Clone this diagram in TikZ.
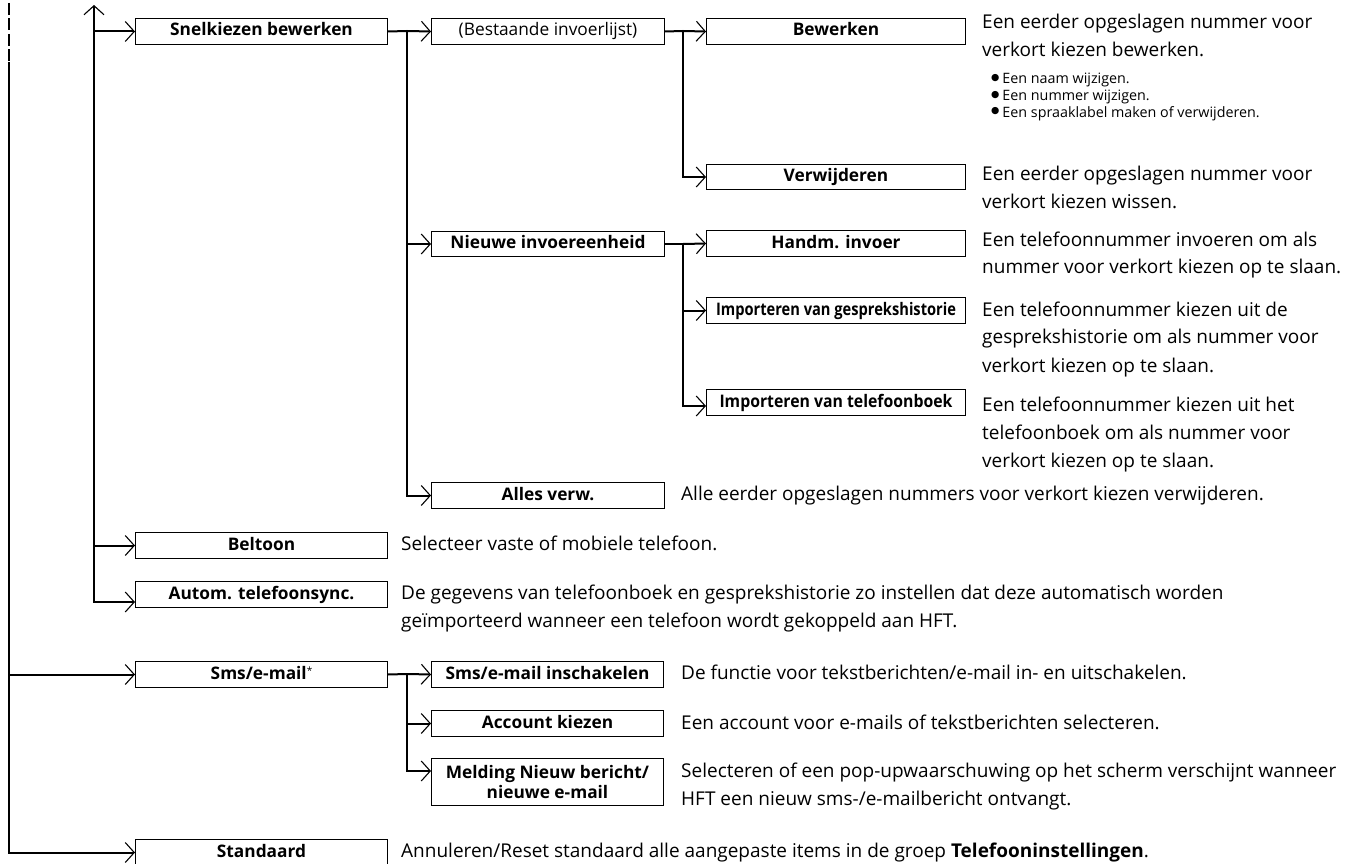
\documentclass[tikz,border=0pt]{standalone}
\usepackage{fontspec}
\usepackage{graphicx}
\setmainfont{Open Sans}
\newfontfamily\djv{DejaVu Sans}
\usetikzlibrary{arrows.meta}
\newcommand\bxf{\fontsize{17.3}{20}\selectfont\bfseries}
\newcommand\bxr{\fontsize{17.3}{20}\selectfont\mdseries}
\newcommand\dsf{\fontsize{19}{28}\selectfont}
\newcommand\smf{\fontsize{14.3}{16.7}\selectfont}
\newcommand\bul{\raisebox{3.5pt}{\djv\fontsize{9.5}{10}\selectfont ●}\hspace{3pt}}
\newcommand\ml[1]{\begin{tabular}[t]{@{}l@{}}#1\end{tabular}}
\begin{document}
\begin{tikzpicture}[x=1pt,y=-1pt,
  box/.style={draw, line width=1pt, anchor=north west, inner sep=0pt,
    minimum height=26pt, text height=12.5pt, text depth=3.5pt, font=\bxf, align=center},
  conn/.style={line width=2pt},
  barb/.tip={Straight Barb[length=9pt,width=20pt,line width=1.1pt]},
  arr/.style={conn,-barb},
  arrboth/.style={conn,barb-barb},
  desc/.style={anchor=base west, inner sep=0pt, font=\dsf},
  small/.style={anchor=base west, inner sep=0pt, font=\smf}]
\useasboundingbox (0,0) rectangle (1361,864);
% boxes
\node[box, minimum width=252pt] (snel) at (135,18) {Snelkiezen bewerken};
\node[box, minimum width=233pt, font=\bxr] (best) at (431,18) {(Bestaande invoerlijst)};
\node[box, minimum width=259pt] (bew) at (706,18) {Bewerken};
\node[box, minimum width=259pt, minimum height=25pt] (verw) at (706,164) {Verwijderen};
\node[box, minimum width=233pt, minimum height=25pt] (nieuw) at (431,231) {Nieuwe invoereenheid};
\node[box, minimum width=259pt] (handm) at (706,230) {Handm. invoer};
\node[box, minimum width=259pt] (impg) at (706,297) {\resizebox{240pt}{\height}{Importeren van gesprekshistorie}};
\node[box, minimum width=259pt] (impt) at (706,389) {\resizebox{233pt}{\height}{Importeren van telefoonboek}};
\node[box, minimum width=233pt] (alles) at (431,482) {Alles verw.};
\node[box, minimum width=252pt] (belt) at (135,532) {Beltoon};
\node[box, minimum width=252pt] (autom) at (135,581) {Autom. telefoonsync.};
\node[box, minimum width=252pt] (sms) at (135,661) {Sms/e-mail\raisebox{5pt}{\fontsize{10}{10}\selectfont\mdseries *}};
\node[box, minimum width=232pt] (smsin) at (431,661) {Sms/e-mail inschakelen};
\node[box, minimum width=232pt] (acc) at (431,710) {Account kiezen};
\node[box, minimum width=232pt, minimum height=47pt, text height=, text depth=] (meld) at (431,758) {Melding Nieuw bericht/\\nieuwe e-mail};
\node[box, minimum width=252pt] (std) at (135,839) {Standaard};
% descriptions
\node[desc] (dbew) at (982,29) {\ml{Een eerder opgeslagen nummer voor\\verkort kiezen bewerken.}};
\node[small] (dbul) at (991,84) {\ml{\bul Een naam wijzigen.\\\bul Een nummer wijzigen.\\\bul Een spraaklabel maken of verwijderen.}};
\node[desc] (dverw) at (982,181) {\ml{Een eerder opgeslagen nummer voor\\verkort kiezen wissen.}};
\node[desc] (dhandm) at (982,246) {\ml{Een telefoonnummer invoeren om als\\nummer voor verkort kiezen op te slaan.}};
\node[desc] (dimpg) at (982,316) {\ml{Een telefoonnummer kiezen uit de\\gesprekshistorie om als nummer voor\\verkort kiezen op te slaan.}};
\node[desc] (dimpt) at (982,411) {\ml{Een telefoonnummer kiezen uit het\\telefoonboek om als nummer voor\\verkort kiezen op te slaan.}};
\node[desc] (dalles) at (681,500) {Alle eerder opgeslagen nummers voor verkort kiezen verwijderen.};
\node[desc] (dbelt) at (401,550) {Selecteer vaste of mobiele telefoon.};
\node[desc] (dautom) at (401,599) {\ml{De gegevens van telefoonboek en gesprekshistorie zo instellen dat deze automatisch worden\\geïmporteerd wanneer een telefoon wordt gekoppeld aan HFT.}};
\node[desc] (dsmsin) at (681,679) {De functie voor tekstberichten/e-mail in- en uitschakelen.};
\node[desc] (dacc) at (681,729) {Een account voor e-mails of tekstberichten selecteren.};
\node[desc] (dmeld) at (681,777) {\ml{Selecteren of een pop-upwaarschuwing op het scherm verschijnt wanneer\\HFT een nieuw sms-/e-mailbericht ontvangt.}};
\node[desc] (dstd) at (401,857) {Annuleren/Reset standaard alle aangepaste items in de groep \textbf{Telefooninstellingen}.};
% junctions
\coordinate (ltop) at (9,3);
\coordinate (lmid) at (9,62);
\coordinate (top) at (94,5);
\coordinate (j1) at (407,31);
\coordinate (j2) at (683,31);
\coordinate (j3) at (683,244);
\coordinate (j4) at (407,674);
% level 0
\draw[conn, dash pattern=on 12pt off 3.5pt] (ltop) -- (lmid);
\draw[arr] (lmid) |- (std.west);
\draw[arr] (lmid |- sms.west) -- (sms.west);
% level 1
\draw[arrboth] (top) |- ([yshift=6pt]autom.south west);
\draw[arr] (top |- snel.west) -- (snel.west);
\draw[arr] (top |- belt.west) -- (belt.west);
% snelkiezen
\draw[conn] (snel.east) -- (j1);
\draw[arr] (j1) -- (best.west);
\draw[arr] (j1) |- (nieuw.west);
\draw[arr] (j1) |- (alles.west);
\draw[conn] (best.east) -- (j2);
\draw[arr] (j2) -- (bew.west);
\draw[arr] (j2) |- (verw.west);
\draw[conn] (nieuw.east) -- (j3);
\draw[arr] (j3) -- (handm.west);
\draw[arr] (j3) |- (impg.west);
\draw[arr] (j3) |- ([yshift=10pt]impt.south west);
% sms
\draw[conn] (sms.east) -- (j4);
\draw[arr] (j4) -- (smsin.west);
\draw[arr] (j4) |- (acc.west);
\draw[arr] (j4) |- ([yshift=-13pt]meld.north west);
\end{tikzpicture}
\end{document}
